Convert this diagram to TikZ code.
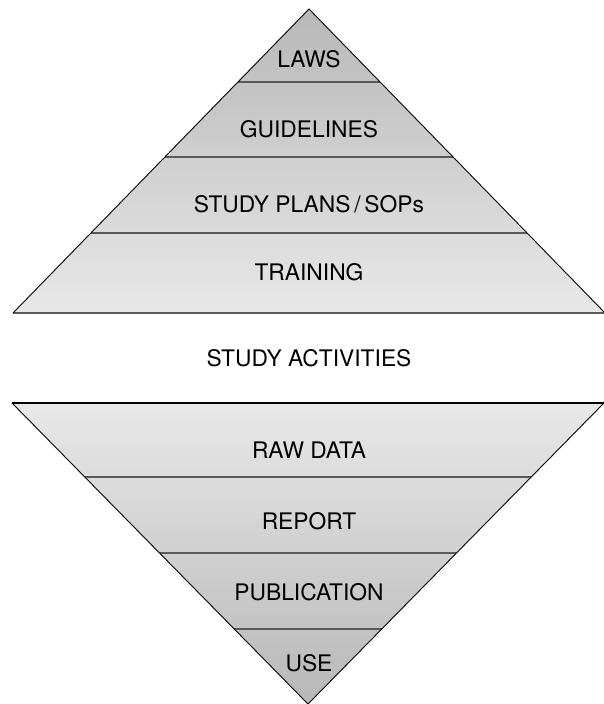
\documentclass[tikz,border=0pt]{standalone}
\usepackage{fontspec}
\setmainfont{TeX Gyre Heros}
\usepackage{tikz}

\tikzset{
	band/.style={line width=1.6pt, draw=black!65},
	edge/.style={line width=0.9pt, draw=black},
	lbl/.style={font=\fontsize{22.8}{27}\selectfont, inner sep=0pt}
}

\begin{document}
\begin{tikzpicture}[x=1pt, y=-1pt]
	\useasboundingbox (0,0) rectangle (604,704);
	% upper triangle
	\shade[top color=black!28, bottom color=black!9] (309,9) -- (605,313) -- (13,313) -- cycle;
	\draw[band] (238,82) -- (380,82);
	\draw[band] (165,157) -- (453,157);
	\draw[band] (91,233) -- (527,233);
	\draw[band] (13,313) -- (605,313);
	\draw[edge] (13,313) -- (309,9) -- (605,313);
	% lower triangle
	\shade[top color=black!9, bottom color=black!28] (12,403) -- (604,403) -- (308,704) -- cycle;
	\draw[band] (85,477) -- (531,477);
	\draw[band] (160,553) -- (456,553);
	\draw[band] (234,629) -- (382,629);
	\draw[edge] (12,403) -- (308,704) -- (604,403);
	\draw[line width=1.2pt] (12,403) -- (604,403);
	% labels
	\node[lbl] (laws) at (309,59) {LAWS};
	\node[lbl] (guide) at (309,129) {GUIDELINES};
	\node[lbl] (plans) at (309,204) {STUDY PLANS\,/\,SOPs};
	\node[lbl] (train) at (309,272) {TRAINING};
	\node[lbl] (act) at (309,358) {STUDY ACTIVITIES};
	\node[lbl] (raw) at (309,450) {RAW DATA};
	\node[lbl] (report) at (309,521) {REPORT};
	\node[lbl] (pub) at (309,592) {PUBLICATION};
	\node[lbl] (use) at (309,663) {USE};
\end{tikzpicture}
\end{document}
